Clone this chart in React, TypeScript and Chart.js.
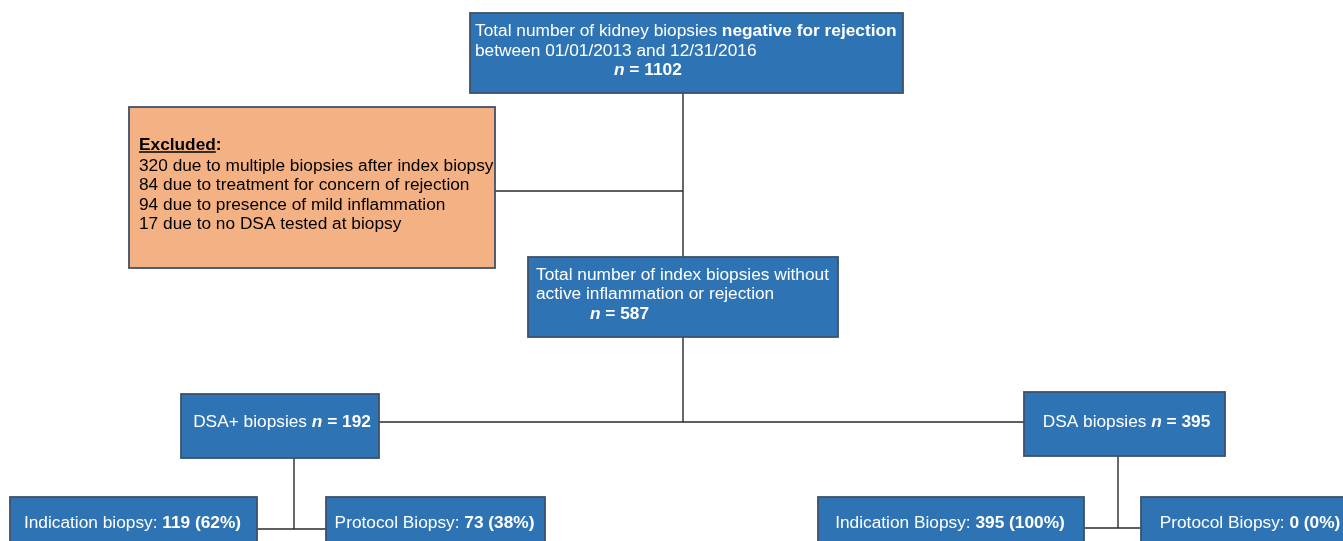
import React, { useEffect, useRef } from "react";
import { Chart, registerables } from "chart.js";

Chart.register(...registerables);

// ---------------- DATA ----------------
const totalBiopsies = 1102;
const studyStart = "01/01/2013";
const studyEnd = "12/31/2016";
const exclusionCounts = [320, 84, 94, 17];
const exclusionReasons = [
  "due to multiple biopsies after index biopsy",
  "due to treatment for concern of rejection",
  "due to presence of mild inflammation",
  "due to no DSA tested at biopsy",
];
const indexBiopsies = 587;
const groupLabels = ["DSA+ biopsies", "DSA biopsies"];
const groupCounts = [192, 395];
const typeLabels = ["Indication biopsy", "Protocol Biopsy", "Indication Biopsy", "Protocol Biopsy"];
const typeCounts = [119, 73, 395, 0];
const typePercents = [62, 38, 100, 0];

// ---------------- LAYOUT (scale units = px of 1343x541 frame) ----------------
const W = 1343;
const H = 541;
type Rect = [number, number, number, number];
const BOX: Record<string, Rect> = {
  top: [470, 13, 903, 93],
  excl: [129, 107, 495, 268],
  mid: [528, 257, 838, 337],
  g0: [181, 394, 379, 458],
  g1: [1024, 392, 1225, 456],
  t0: [10, 497, 257, 570],
  t1: [326, 497, 545, 570],
  t2: [818, 497, 1084, 570],
  t3: [1141, 497, 1365, 570],
};
const TRUNK_X = 683;
const EXCL_Y = 191;
const GROUP_Y = 422;
const G0_DROP_X = 294;
const G1_DROP_X = 1118;
const LEFT_Y = 529;
const RIGHT_Y = 528;

const BLUE = "#2E74B5";
const ORANGE = "#F4B183";
const BORDER = "#3F5269";
const LINE = "#2a2a2a";
const FONT = '"Liberation Sans", Arial, Helvetica, sans-serif';
const FS = 17.3;

type Run = { t: string; b?: boolean; i?: boolean; u?: boolean };
type Line = { runs: Run[]; x: number; y: number; center?: boolean };
type Node = { key: string; fill: string; color: string; lines: Line[] };

function buildNodes(): Node[] {
  const nodes: Node[] = [];
  nodes.push({
    key: "top",
    fill: BLUE,
    color: "#ffffff",
    lines: [
      { runs: [{ t: "Total number of kidney biopsies " }, { t: "negative for rejection", b: true }], x: 475, y: 36 },
      { runs: [{ t: `between ${studyStart} and ${studyEnd}` }], x: 475, y: 55.5 },
      { runs: [{ t: "n", b: true, i: true }, { t: ` = ${totalBiopsies}`, b: true }], x: 614, y: 75 },
    ],
  });
  const exclLines: Line[] = [
    { runs: [{ t: "Excluded", b: true, u: true }, { t: ":", b: true }], x: 139, y: 149.5 },
  ];
  exclusionCounts.forEach((c, k) => {
    exclLines.push({ runs: [{ t: `${c} ${exclusionReasons[k]}` }], x: 139, y: 171 + 19.4 * k });
  });
  nodes.push({ key: "excl", fill: ORANGE, color: "#000000", lines: exclLines });
  nodes.push({
    key: "mid",
    fill: BLUE,
    color: "#ffffff",
    lines: [
      { runs: [{ t: "Total number of index biopsies without" }], x: 536, y: 279.5 },
      { runs: [{ t: "active inflammation or rejection" }], x: 536, y: 299 },
      { runs: [{ t: "n", b: true, i: true }, { t: ` = ${indexBiopsies}`, b: true }], x: 590, y: 318.5 },
    ],
  });
  groupLabels.forEach((lab, k) => {
    const key = `g${k}`;
    const r = BOX[key];
    nodes.push({
      key,
      fill: BLUE,
      color: "#ffffff",
      lines: [
        {
          runs: [{ t: `${lab} ` }, { t: "n", b: true, i: true }, { t: ` = ${groupCounts[k]}`, b: true }],
          x: (r[0] + r[2]) / 2 + 2,
          y: 427,
          center: true,
        },
      ],
    });
  });
  typeLabels.forEach((lab, k) => {
    const key = `t${k}`;
    const r = BOX[key];
    const cx = k === 3 ? 1250 : (r[0] + r[2]) / 2 - 1;
    nodes.push({
      key,
      fill: BLUE,
      color: "#ffffff",
      lines: [
        {
          runs: [{ t: `${lab}: ` }, { t: `${typeCounts[k]} (${typePercents[k]}%)`, b: true }],
          x: cx,
          y: 528,
          center: true,
        },
      ],
    });
  });
  return nodes;
}

function connectors(): Array<Array<[number, number]>> {
  return [
    [[TRUNK_X, BOX.top[3]], [TRUNK_X, BOX.mid[1]]],
    [[BOX.excl[2], EXCL_Y], [TRUNK_X, EXCL_Y]],
    [[TRUNK_X, BOX.mid[3]], [TRUNK_X, GROUP_Y]],
    [[BOX.g0[2], GROUP_Y], [BOX.g1[0], GROUP_Y]],
    [[G0_DROP_X, BOX.g0[3]], [G0_DROP_X, LEFT_Y]],
    [[BOX.t0[2], LEFT_Y], [BOX.t1[0], LEFT_Y]],
    [[G1_DROP_X, BOX.g1[3]], [G1_DROP_X, RIGHT_Y]],
    [[BOX.t2[2], RIGHT_Y], [BOX.t3[0], RIGHT_Y]],
  ];
}

function fontOf(r: Run) {
  return `${r.i ? "italic " : ""}${r.b ? "bold " : ""}${FS}px ${FONT}`;
}

const boxesPlugin = {
  id: "flowBoxes",
  afterDatasetsDraw(chart: any) {
    const ctx: CanvasRenderingContext2D = chart.ctx;
    const xs = chart.scales.x;
    const ys = chart.scales.y;
    const nodes = buildNodes();
    ctx.save();
    for (const n of nodes) {
      const r = BOX[n.key];
      const x1 = xs.getPixelForValue(r[0]);
      const y1 = ys.getPixelForValue(r[1]);
      const x2 = xs.getPixelForValue(r[2]);
      const y2 = ys.getPixelForValue(r[3]);
      ctx.fillStyle = n.fill;
      ctx.fillRect(x1, y1, x2 - x1, y2 - y1);
      ctx.strokeStyle = BORDER;
      ctx.lineWidth = 1.8;
      ctx.strokeRect(x1, y1, x2 - x1, y2 - y1);
      ctx.fillStyle = n.color;
      ctx.strokeStyle = n.color;
      ctx.textBaseline = "alphabetic";
      ctx.textAlign = "left";
      for (const ln of n.lines) {
        let total = 0;
        for (const run of ln.runs) {
          ctx.font = fontOf(run);
          total += ctx.measureText(run.t).width;
        }
        let px = xs.getPixelForValue(ln.x);
        if (ln.center) px -= total / 2;
        const py = ys.getPixelForValue(ln.y);
        for (const run of ln.runs) {
          ctx.font = fontOf(run);
          ctx.fillText(run.t, px, py);
          const w = ctx.measureText(run.t).width;
          if (run.u) {
            ctx.lineWidth = 1.3;
            ctx.beginPath();
            ctx.moveTo(px, py + 2.5);
            ctx.lineTo(px + w, py + 2.5);
            ctx.stroke();
          }
          px += w;
        }
      }
    }
    ctx.restore();
  },
};

export default function App() {
  const ref = useRef<HTMLCanvasElement | null>(null);
  useEffect(() => {
    document.body.style.margin = "0";
    document.body.style.background = "#ffffff";
    const canvas = ref.current;
    if (!canvas) return;
    const chart = new Chart(canvas, {
      type: "scatter",
      data: {
        datasets: connectors().map((seg) => ({
          data: seg.map(([x, y]) => ({ x, y })),
          showLine: true,
          borderColor: LINE,
          borderWidth: 1.4,
          pointRadius: 0,
          pointHoverRadius: 0,
          fill: false,
          tension: 0,
        })),
      },
      options: {
        animation: false,
        responsive: false,
        maintainAspectRatio: false,
        layout: { padding: 0 },
        plugins: { legend: { display: false }, tooltip: { enabled: false }, title: { display: false } },
        events: [],
        scales: {
          x: { type: "linear", min: 0, max: W, display: false },
          y: { type: "linear", min: 0, max: H, reverse: true, display: false },
        },
      },
      plugins: [boxesPlugin],
    });
    return () => chart.destroy();
  }, []);
  return (
    <div style={{ width: W, height: H, background: "#fff" }}>
      <canvas ref={ref} width={W} height={H} style={{ display: "block", width: W, height: H }} />
    </div>
  );
}
